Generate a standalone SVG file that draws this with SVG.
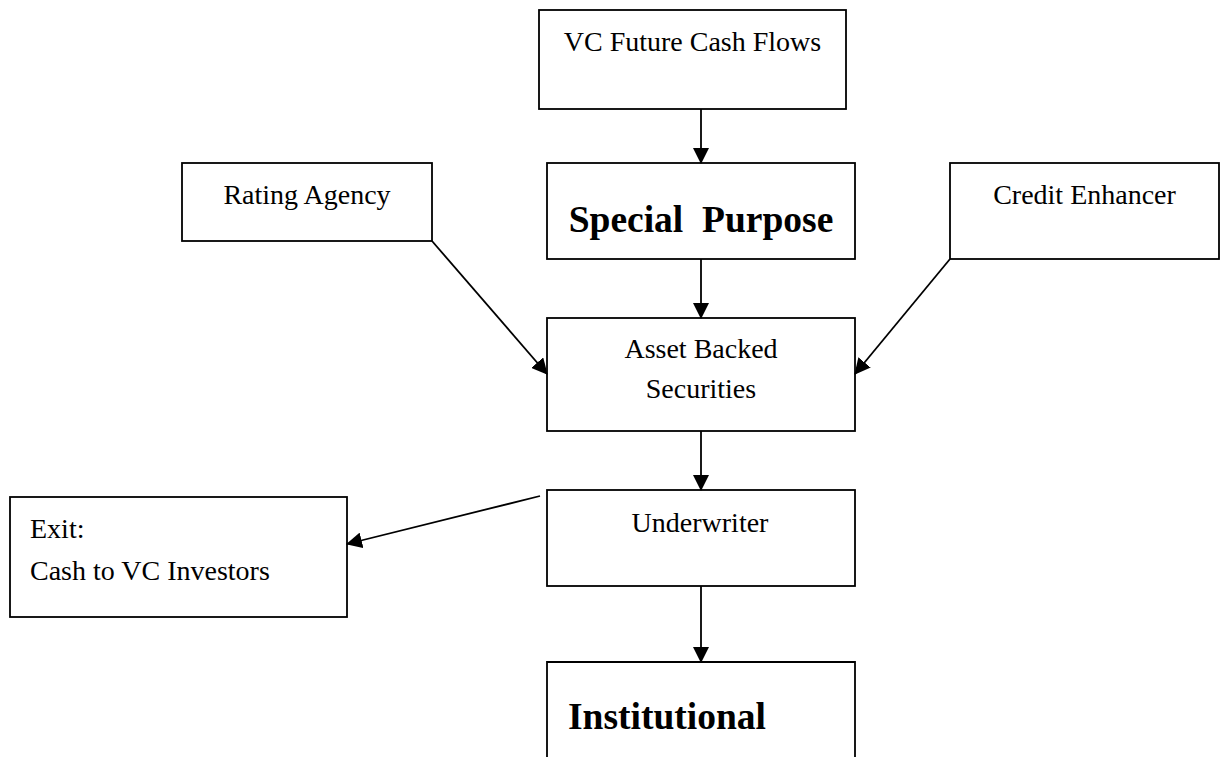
<svg xmlns="http://www.w3.org/2000/svg" width="1220" height="757" viewBox="0 0 1220 757">
  <style>
    .box { fill: #ffffff; stroke: #000000; stroke-width: 1.8; }
    .t { font-family: "Liberation Serif", "Times New Roman", serif; font-size: 28px; fill: #000000; }
    .b { font-family: "Liberation Serif", "Times New Roman", serif; font-size: 37.5px; font-weight: bold; fill: #000000; }
    .c { text-anchor: middle; }
    .conn { stroke: #000000; stroke-width: 1.8; fill: none; marker-end: url(#ah); }
  </style>
  <defs>
    <marker id="ah" markerUnits="userSpaceOnUse" markerWidth="16" markerHeight="16" refX="15" refY="8" orient="auto">
      <path d="M0,0 L16,8 L0,16 z" fill="#000000"/>
    </marker>
  </defs>
  <rect width="1220" height="757" fill="#ffffff"/>

  <g id="vc-future-cash-flows">
    <rect class="box" x="539" y="10" width="307" height="99"/>
    <text class="t c" x="692.5" y="51">VC Future Cash Flows</text>
  </g>
  <g id="rating-agency">
    <rect class="box" x="182" y="163" width="250" height="78"/>
    <text class="t c" x="307" y="204">Rating Agency</text>
  </g>
  <g id="special-purpose">
    <rect class="box" x="547" y="163" width="308" height="96"/>
    <text class="b c" x="701" y="232" xml:space="preserve">Special  Purpose</text>
  </g>
  <g id="credit-enhancer">
    <rect class="box" x="950" y="163" width="269" height="96"/>
    <text class="t c" x="1084.5" y="204">Credit Enhancer</text>
  </g>
  <g id="asset-backed-securities">
    <rect class="box" x="547" y="318" width="308" height="113"/>
    <text class="t c" x="701" y="358">Asset Backed</text>
    <text class="t c" x="701" y="398">Securities</text>
  </g>
  <g id="underwriter">
    <rect class="box" x="547" y="490" width="308" height="96"/>
    <text class="t c" x="700" y="532">Underwriter</text>
  </g>
  <g id="exit">
    <rect class="box" x="10" y="497" width="337" height="120"/>
    <text class="t" x="30" y="538">Exit:</text>
    <text class="t" x="30" y="580">Cash to VC Investors</text>
  </g>
  <g id="institutional">
    <path class="box" d="M547,757 V662 H855 V757"/>
    <text class="b" x="568" y="729">Institutional</text>
  </g>

  <g id="connectors">
    <line class="conn" x1="701" y1="109" x2="701" y2="163"/>
    <line class="conn" x1="701" y1="259" x2="701" y2="318"/>
    <line class="conn" x1="432" y1="241" x2="547" y2="374"/>
    <line class="conn" x1="950" y1="259" x2="855" y2="374"/>
    <line class="conn" x1="701" y1="431" x2="701" y2="490"/>
    <line class="conn" x1="540" y1="496" x2="347" y2="544"/>
    <line class="conn" x1="701" y1="586" x2="701" y2="662"/>
  </g>
</svg>
